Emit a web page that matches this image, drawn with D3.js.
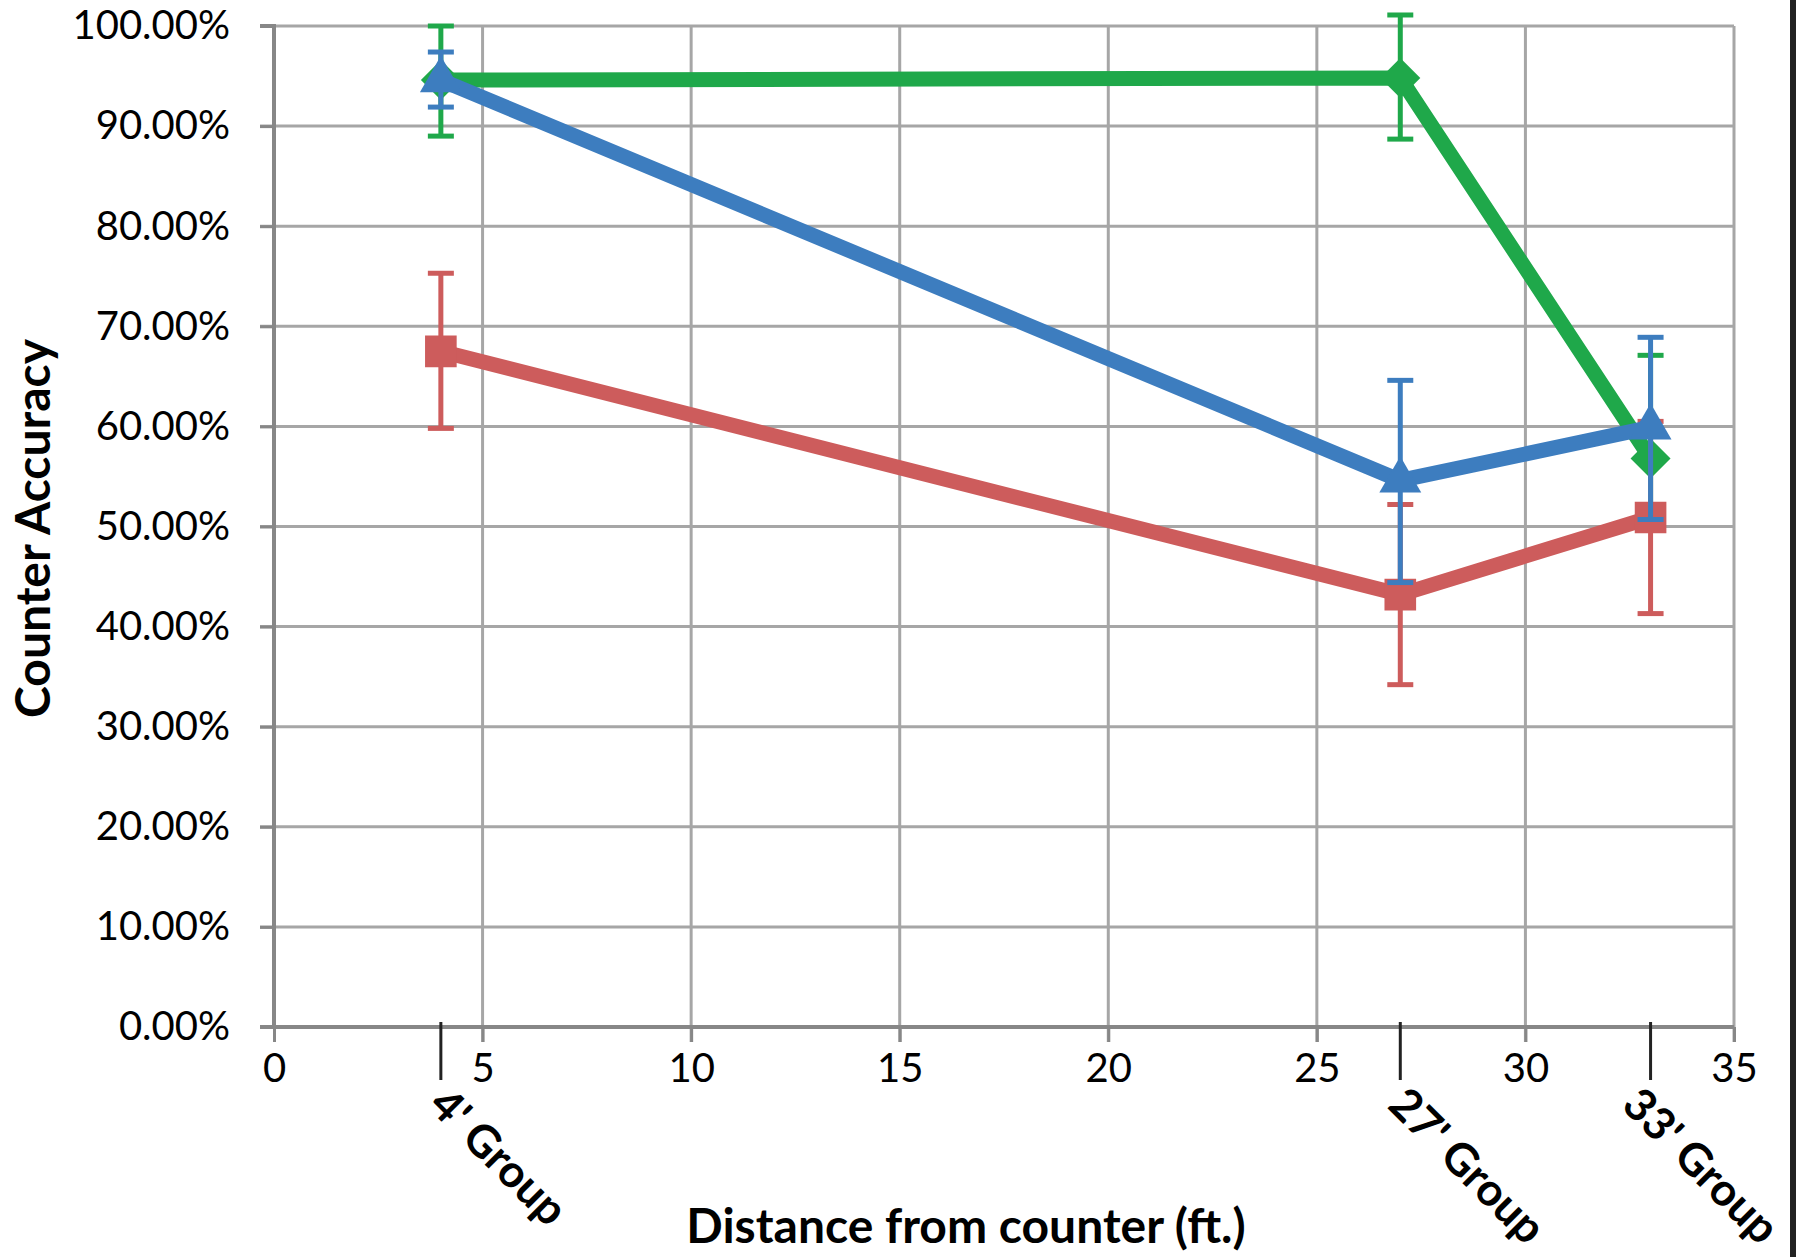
<!DOCTYPE html>
<html>
<head>
<meta charset="utf-8">
<script src="https://cdn.jsdelivr.net/npm/d3@7"></script>
<style>
  html, body { margin: 0; padding: 0; background: #fff; }
  svg { display: block; }
</style>
</head>
<body>
<div id="chart"></div>
<script>
// group labels and their distance from the counter (ft.)
const groups = ["4' Group", "27' Group", "33' Group"];
const distances = [4, 27, 33];

// counter accuracy per group, with error bar extents (up / down)
const greenVals = [0.946, 0.948, 0.568];
const greenUp = [0.054, 0.063, 0.103];
const greenDown = [0.056, 0.061, 0.06];

const redVals = [0.675, 0.432, 0.509];
const redUp = [0.078, 0.09, 0.096];
const redDown = [0.077, 0.09, 0.096];

const blueVals = [0.946, 0.546, 0.599];
const blueUp = [0.028, 0.1, 0.09];
const blueDown = [0.027, 0.102, 0.092];

const xTicks = [0, 5, 10, 15, 20, 25, 30, 35];
const yTicks = [0, 0.1, 0.2, 0.3, 0.4, 0.5, 0.6, 0.7, 0.8, 0.9, 1];

const width = 1796, height = 1257;
const plot = { left: 274, right: 1734, top: 26, bottom: 1027 };

const svg = d3.select("#chart").append("svg")
  .attr("width", width)
  .attr("height", height)
  .attr("font-family", "Lato, 'Open Sans', sans-serif");

const x = d3.scaleLinear().domain([0, 35]).range([plot.left, plot.right]);
const y = d3.scaleLinear().domain([0, 1]).range([plot.bottom, plot.top]);

// grid
const grid = svg.append("g").attr("stroke", "#a6a6a6").attr("stroke-width", 3);
grid.selectAll("line.h")
  .data(yTicks.slice(1))
  .join("line")
  .attr("class", "h")
  .attr("x1", plot.left - 14).attr("x2", plot.right)
  .attr("y1", d => y(d)).attr("y2", d => y(d));
grid.selectAll("line.v")
  .data(xTicks.slice(1))
  .join("line")
  .attr("class", "v")
  .attr("x1", d => x(d)).attr("x2", d => x(d))
  .attr("y1", plot.top).attr("y2", plot.bottom + 15);

// axes
const yAxis = svg.append("g")
  .attr("transform", `translate(${plot.left},0)`)
  .call(d3.axisLeft(y).tickValues(yTicks).tickFormat(d3.format(".2%")).tickSize(14).tickPadding(30));
const xAxis = svg.append("g")
  .attr("transform", `translate(0,${plot.bottom})`)
  .call(d3.axisBottom(x).tickValues(xTicks).tickSize(15).tickPadding(4));

[yAxis, xAxis].forEach(ax => {
  ax.select(".domain").attr("stroke", "#878787").attr("stroke-width", 4);
  ax.selectAll(".tick line").attr("stroke", "#878787").attr("stroke-width", 3);
  ax.selectAll(".tick text")
    .attr("fill", "#000")
    .attr("font-size", 40)
    .attr("font-family", "Lato, sans-serif");
});
yAxis.select(".domain").attr("d", `M-14,${plot.top}H0V${plot.bottom}H-14`);
xAxis.select(".domain").attr("d", `M${plot.left - 14},0H${plot.right}`);
xAxis.selectAll(".tick text").attr("dy", "0.9em");

// category ticks below the axis
svg.append("g")
  .selectAll("line")
  .data(distances)
  .join("line")
  .attr("x1", d => x(d)).attr("x2", d => x(d))
  .attr("y1", plot.bottom - 5).attr("y2", plot.bottom + 53)
  .attr("stroke", "#222")
  .attr("stroke-width", 3);

// rotated category labels, shifted left if they would run off the chart
const catLabels = svg.append("g")
  .selectAll("text")
  .data(groups)
  .join("text")
  .attr("font-size", 45)
  .attr("font-weight", "bold")
  .attr("fill", "#000")
  .text(d => d);
catLabels.each(function (d, i) {
  const len = this.getComputedTextLength();
  let bx = x(distances[i]) - 14;
  const by = plot.bottom + 80;
  const maxEnd = 1768;
  const end = bx + len * Math.SQRT1_2 + 8;
  if (end > maxEnd) bx -= end - maxEnd;
  d3.select(this).attr("transform", `translate(${bx},${by}) rotate(45)`);
});

// axis titles
svg.append("text")
  .attr("x", (plot.left + plot.right) / 2 - 38)
  .attr("y", 1243)
  .attr("text-anchor", "middle")
  .attr("font-size", 48)
  .attr("font-weight", "bold")
  .text("Distance from counter (ft.)");

svg.append("text")
  .attr("transform", `translate(50,${(plot.top + plot.bottom) / 2 + 2}) rotate(-90)`)
  .attr("text-anchor", "middle")
  .attr("font-size", 48)
  .attr("font-weight", "bold")
  .text("Counter Accuracy");

// series
const series = [
  { color: "#1fa84a", vals: greenVals, up: greenUp, down: greenDown,
    symbol: d3.symbolSquare, size: 800, rotate: 45 },
  { color: "#cd5c5c", vals: redVals, up: redUp, down: redDown,
    symbol: d3.symbolSquare, size: 1000, rotate: 0 },
  { color: "#3d7dbf", vals: blueVals, up: blueUp, down: blueDown,
    symbol: d3.symbolTriangle, size: 760, rotate: 0 }
];

const line = d3.line().x(d => x(d[0])).y(d => y(d[1]));

series.forEach(s => {
  const pts = distances.map((dist, i) => [dist, s.vals[i], s.up[i], s.down[i]]);
  const g = svg.append("g");

  g.append("path")
    .datum(pts)
    .attr("fill", "none")
    .attr("stroke", s.color)
    .attr("stroke-width", 15)
    .attr("stroke-linejoin", "round")
    .attr("d", line);

  const bars = g.selectAll("g.err")
    .data(pts)
    .join("g")
    .attr("class", "err")
    .attr("stroke", s.color)
    .attr("stroke-width", 5);
  bars.append("line")
    .attr("x1", d => x(d[0])).attr("x2", d => x(d[0]))
    .attr("y1", d => y(d[1] + d[2])).attr("y2", d => y(d[1] - d[3]));
  bars.append("line")
    .attr("x1", d => x(d[0]) - 13).attr("x2", d => x(d[0]) + 13)
    .attr("y1", d => y(d[1] + d[2])).attr("y2", d => y(d[1] + d[2]));
  bars.append("line")
    .attr("x1", d => x(d[0]) - 13).attr("x2", d => x(d[0]) + 13)
    .attr("y1", d => y(d[1] - d[3])).attr("y2", d => y(d[1] - d[3]));

  g.selectAll("path.mark")
    .data(pts)
    .join("path")
    .attr("class", "mark")
    .attr("fill", s.color)
    .attr("d", d3.symbol().type(s.symbol).size(s.size))
    .attr("transform", d => `translate(${x(d[0])},${y(d[1])}) rotate(${s.rotate})`);
});

// dark strip at the right edge of the picture
svg.append("rect")
  .attr("x", 1790).attr("y", 0)
  .attr("width", 6).attr("height", height)
  .attr("fill", "#222");
</script>
</body>
</html>
